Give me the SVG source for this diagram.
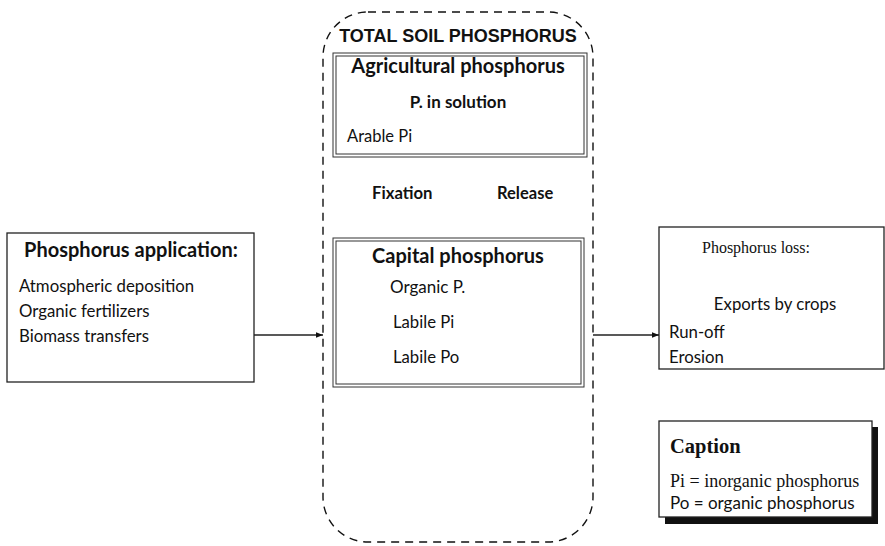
<svg xmlns="http://www.w3.org/2000/svg" width="885" height="546" viewBox="0 0 885 546">
<defs>
<marker id="ah" viewBox="0 0 10 10" refX="10" refY="5" markerWidth="7" markerHeight="7" markerUnits="userSpaceOnUse" orient="auto">
<path d="M0,1 L10,5 L0,9 z" fill="#111"/>
</marker>
</defs>
<style>
.box{fill:#fff;stroke:#222;stroke-width:1.3}
.dbl{fill:none;stroke:#333;stroke-width:1}
.sans{font-family:Lato,"Open Sans","Liberation Sans",sans-serif;fill:#111}
.b{font-weight:bold}
.serif{font-family:"Liberation Serif","Times New Roman",serif;fill:#111}
.arial{font-family:"Liberation Sans",Arial,sans-serif;font-weight:bold;fill:#111}
.conn{stroke:#222;stroke-width:1.3;fill:none}
</style>
<rect width="885" height="546" fill="#fff"/>
<g id="total-soil">
<rect x="323" y="12" width="270" height="530" rx="45" ry="45" fill="none" stroke="#111" stroke-width="1.4" stroke-dasharray="8,6"/>
<text class="arial" x="458" y="42" font-size="18" text-anchor="middle">TOTAL SOIL PHOSPHORUS</text>
</g>
<g id="agricultural">
<rect x="333" y="53" width="254" height="104" class="dbl"/>
<rect x="336" y="56" width="248" height="98" class="dbl"/>
<text class="sans b" x="458" y="73" font-size="20" text-anchor="middle">Agricultural phosphorus</text>
<text class="sans b" x="458" y="108" font-size="17" text-anchor="middle">P. in solution</text>
<text class="sans" x="347" y="142" font-size="16.5">Arable Pi</text>
</g>
<g id="fixation">
<text class="sans b" x="372" y="199" font-size="16.7">Fixation</text>
</g>
<g id="release">
<text class="sans b" x="497" y="199" font-size="16.5">Release</text>
</g>
<g id="capital">
<rect x="333" y="238" width="251" height="149" class="dbl"/>
<rect x="336" y="241" width="245" height="143" class="dbl"/>
<text class="sans b" x="458" y="263" font-size="20" text-anchor="middle">Capital phosphorus</text>
<text class="sans" x="390" y="293" font-size="17">Organic P.</text>
<text class="sans" x="393" y="328" font-size="16.7">Labile Pi</text>
<text class="sans" x="393" y="363" font-size="16.7">Labile Po</text>
</g>
<g id="application">
<rect x="7" y="233" width="247" height="149" class="box"/>
<text class="sans b" x="131" y="257" font-size="20" text-anchor="middle">Phosphorus application:</text>
<text class="sans" x="19" y="292" font-size="16.8">Atmospheric deposition</text>
<text class="sans" x="19" y="317" font-size="16.8">Organic fertilizers</text>
<text class="sans" x="19" y="342" font-size="16.8">Biomass transfers</text>
</g>
<g id="loss">
<rect x="659" y="227" width="225" height="142" class="box"/>
<text class="serif" x="756" y="253" font-size="16" text-anchor="middle">Phosphorus loss:</text>
<text class="sans" x="775" y="310" font-size="16.8" text-anchor="middle">Exports by crops</text>
<text class="sans" x="669" y="338" font-size="16.8">Run-off</text>
<text class="sans" x="669" y="363" font-size="16.8">Erosion</text>
</g>
<g id="caption">
<rect x="665" y="427" width="213" height="97" fill="#111"/>
<rect x="659" y="421" width="213" height="96" class="box"/>
<text class="serif b" x="670" y="453" font-size="20.5">Caption</text>
<text class="serif" x="670" y="487" font-size="18">Pi = inorganic phosphorus</text>
<text class="sans" x="670" y="509" font-size="17">Po = organic phosphorus</text>
</g>
<g id="connectors">
<line x1="254" y1="335" x2="323" y2="335" class="conn" marker-end="url(#ah)"/>
<line x1="593" y1="335" x2="659" y2="335" class="conn" marker-end="url(#ah)"/>
</g>
</svg>
